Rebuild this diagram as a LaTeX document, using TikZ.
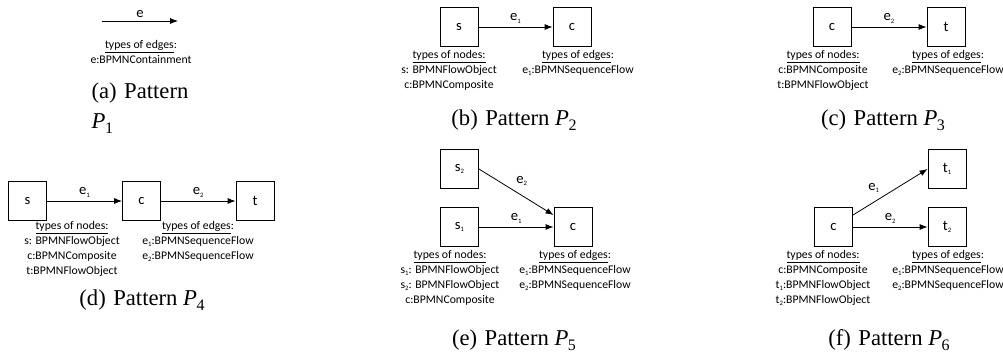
\documentclass[tikz,border=0pt]{standalone}
\usepackage{fontspec}
\setmainfont{Liberation Serif}
\newfontfamily\diagfont{Carlito}
\usepackage{tikz}
\usetikzlibrary{arrows.meta}
\newcommand{\pat}[1]{\textit{P}\kern-0.3pt\raisebox{-0.45ex}{\fontsize{12}{12}\selectfont #1}}
\newcommand{\sub}[1]{\raisebox{-0.35ex}{\fontsize{5}{5}\selectfont #1}}
\tikzset{
	vbox/.style={draw, rectangle, line width=0.6pt, minimum width=28.5pt, minimum height=29pt, inner sep=0pt, font=\diagfont\fontsize{11}{12}\selectfont},
	edge/.style={line width=0.6pt, -{Latex[length=6pt,width=4.5pt]}},
	elab/.style={font=\diagfont\fontsize{11}{12}\selectfont, inner sep=2.5pt},
	types/.style={anchor=north, align=center, inner sep=0pt, font=\diagfont\fontsize{8.8}{11.2}\selectfont},
	capt/.style={font=\fontsize{17}{22.5}\selectfont, inner sep=0pt}
}

\begin{document}
\begin{tikzpicture}[x=0.75pt, y=-0.75pt]
			\useasboundingbox (0,0) rectangle (1003,354);
			% (a)
			\coordinate (aL) at (102,21);
			\coordinate (aR) at (178,21);
			\draw[edge] (aL) -- node[elab, above] {e} (aR);
			\node[types] (aE) at (141,40) {\underline{types of edges}:\\ e:BPMNContainment};
			\node[capt, align=left] (aCap) at (140,108) {(a)\hspace{0.33em}Pattern\\ \pat{1}};
			% (b)
			\node[vbox] (bS) at (459,27) {s};
			\node[vbox] (bC) at (572,27) {c};
			\draw[edge] (bS) -- node[elab, above] {e\sub{1}} (bC);
			\node[types] (bN) at (449,50) {\underline{types of nodes:}\\ s: BPMNFlowObject\\ c:BPMNComposite};
			\node[types] (bE) at (578,50) {\underline{types of edges}:\\ e\sub{1}:BPMNSequenceFlow};
			\node[capt] (bCap) at (514,120) {(b)\hspace{0.33em}Pattern \pat{2}};
			% (c)
			\node[vbox] (cC) at (832,27) {c};
			\node[vbox] (cT) at (946,27) {t};
			\draw[edge] (cC) -- node[elab, above] {e\sub{2}} (cT);
			\node[types] (cN) at (823,50) {\underline{types of nodes:}\\ c:BPMNComposite\\ t:BPMNFlowObject};
			\node[types] (cE) at (948,50) {\underline{types of edges}:\\ e\sub{2}:BPMNSequenceFlow};
			\node[capt] (cCap) at (883,120) {(c)\hspace{0.33em}Pattern \pat{3}};
			% (d)
			\node[vbox] (dS) at (27.5,201) {s};
			\node[vbox] (dC) at (141.5,201) {c};
			\node[vbox] (dT) at (255,201) {t};
			\draw[edge] (dS) -- node[elab, above] {e\sub{1}} (dC);
			\draw[edge] (dC) -- node[elab, above] {e\sub{2}} (dT);
			\node[types] (dN) at (72,221) {\underline{types of nodes:}\\ s: BPMNFlowObject\\ c:BPMNComposite\\ t:BPMNFlowObject};
			\node[types] (dE) at (198,221) {\underline{types of edges}:\\ e\sub{1}:BPMNSequenceFlow\\ e\sub{2}:BPMNSequenceFlow};
			\node[capt] (dCap) at (142,300) {(d)\hspace{0.33em}Pattern \pat{4}};
			% (e)
			\node[vbox] (eS2) at (459.5,169) {s\sub{2}};
			\node[vbox] (eS1) at (459.5,227) {s\sub{1}};
			\node[vbox] (eC) at (573,227) {c};
			\draw[edge] (eS1) -- node[elab, above] {e\sub{1}} (eC);
			\draw[edge] (eS2.east) -- node[elab, above right, pos=0.45] {e\sub{2}} (eC);
			\node[types] (eN) at (450,250) {\underline{types of nodes:}\\ s\sub{1}: BPMNFlowObject\\ s\sub{2}: BPMNFlowObject\\ c:BPMNComposite};
			\node[types] (eE) at (575,250) {\underline{types of edges}:\\ e\sub{1}:BPMNSequenceFlow\\ e\sub{2}:BPMNSequenceFlow};
			\node[capt] (eCap) at (514,340) {(e)\hspace{0.33em}Pattern \pat{5}};
			% (f)
			\node[vbox] (fC) at (833.5,227) {c};
			\node[vbox] (fT1) at (947,169) {t\sub{1}};
			\node[vbox] (fT2) at (947,227) {t\sub{2}};
			\draw[edge] (fC) -- node[elab, above left, pos=0.4] {e\sub{1}} (fT1.west);
			\draw[edge] (fC) -- node[elab, above] {e\sub{2}} (fT2);
			\node[types] (fN) at (823,250) {\underline{types of nodes:}\\ c:BPMNComposite\\ t\sub{1}:BPMNFlowObject\\ t\sub{2}:BPMNFlowObject};
			\node[types] (fE) at (948,250) {\underline{types of edges}:\\ e\sub{1}:BPMNSequenceFlow\\ e\sub{2}:BPMNSequenceFlow};
			\node[capt] (fCap) at (889,340) {(f)\hspace{0.33em}Pattern \pat{6}};
		\end{tikzpicture}
\end{document}
